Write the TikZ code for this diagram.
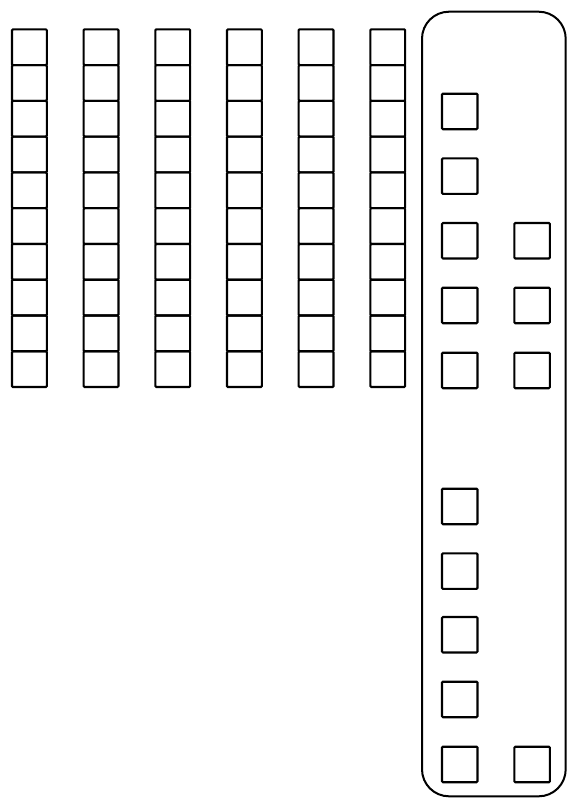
\documentclass[tikz,border=0pt]{standalone}
\begin{document}
\begin{tikzpicture}[x=1pt,y=-1pt,
  cell/.style={draw=black,line width=2.1pt,rounded corners=1pt,minimum width=34.8pt,minimum height=35.8pt,inner sep=0pt,outer sep=0pt,anchor=north west},
  seat/.style={draw=black,line width=2.1pt,rounded corners=1pt,minimum width=35.5pt,minimum height=35.5pt,inner sep=0pt,outer sep=0pt,anchor=north west},
  container/.style={draw=black,line width=2pt,rounded corners=27pt,minimum width=143.7pt,minimum height=784.6pt,inner sep=0pt,outer sep=0pt,anchor=north west}]
\useasboundingbox (0,0) rectangle (568,798);
\foreach \c in {0,...,5}{
  \foreach \r in {0,...,9}{
    \node[cell] (g-\c-\r) at ({12+71.67*\c},{29.3+35.77*\r}) {};
  }
}
\node[container] (box) at (422,11.7) {};
\foreach \r/\y in {1/93.7,2/158.3,3/223,4/287.7,5/352.7,6/488.7,7/553.3,8/617,9/681.7,10/746.7}{
  \node[seat] (a-\r) at (442,\y) {};
}
\foreach \r/\y in {3/223,4/287.7,5/352.7,10/746.7}{
  \node[seat] (b-\r) at (514.3,\y) {};
}
\end{tikzpicture}
\end{document}
